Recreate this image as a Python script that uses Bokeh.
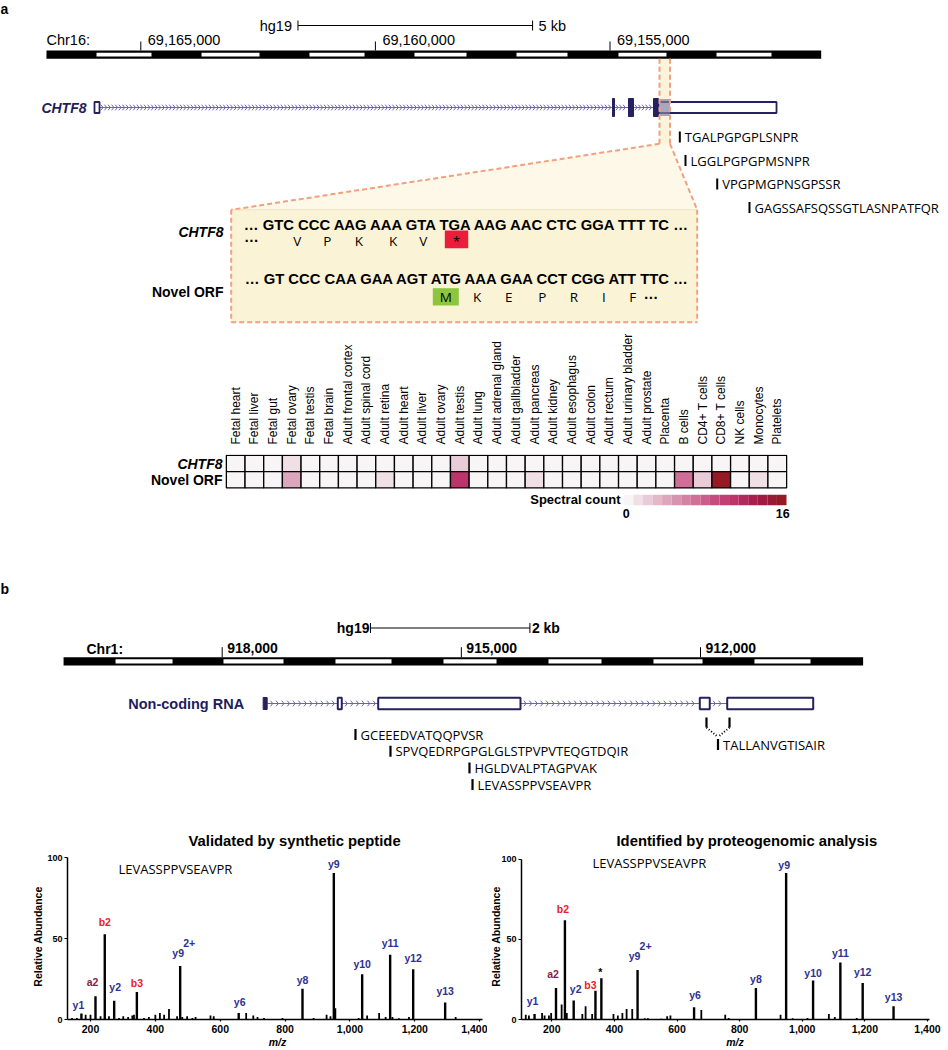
import math
import numpy as np
from bokeh.plotting import figure
from bokeh.models import (Range1d, FixedTicker, NumeralTickFormatter, LinearColorMapper,
                          ColumnDataSource)
from bokeh.layouts import column, row
from bokeh.embed import file_html
from bokeh.resources import INLINE
from bokeh.core.properties import value
from bokeh.transform import transform

# ====================== DATA ======================
# Panel a: Chr16 (hg19) ruler
chr16_ruler = [69167010, 69150499]
chr16_band_start = [69165944, 69163706, 69161405, 69159167, 69156993, 69154819, 69152730]
chr16_band_end = [69164772, 69162470, 69160232, 69158058, 69155906, 69153796, 69151558]
chr16_ticks = [69165000, 69160000, 69155000]
chr16_tick_labels = ["69,165,000", "69,160,000", "69,155,000"]
chr16_scale_bp = 5000
chr16_scale_start = 69161650

# CHTF8 gene model (genomic start/end, coding?)
chtf8_exon_start = [69165987, 69154947, 69154606, 69154073, 69153966]
chtf8_exon_end = [69165880, 69154904, 69154499, 69153966, 69151451]
chtf8_exon_coding = [False, True, True, True, False]
chtf8_zoom_region = [69153945, 69153721]

peptides_a = ["TGALPGPGPLSNPR", "LGGLPGPGPMSNPR", "VPGPMGPNSGPSSR", "GAGSSAFSQSSGTLASNPATFQR"]
peptides_a_start = [69153512, 69153391, 69152715, 69152027]

chtf8_codons = "GTC CCC AAG AAA GTA TGA AAG AAC CTC GGA TTT TC"
chtf8_aa = ["V", "P", "K", "K", "V", "*"]
novel_codons = "GT CCC CAA GAA AGT ATG AAA GAA CCT CGG ATT TTC"
novel_aa = ["M", "K", "E", "P", "R", "I", "F"]

# Heatmap: spectral counts per tissue
tissues = ["Fetal heart", "Fetal liver", "Fetal gut", "Fetal ovary", "Fetal testis", "Fetal brain",
           "Adult frontal cortex", "Adult spinal cord", "Adult retina", "Adult heart", "Adult liver",
           "Adult ovary", "Adult testis", "Adult lung", "Adult adrenal gland", "Adult gallbladder",
           "Adult pancreas", "Adult kidney", "Adult esophagus", "Adult colon", "Adult rectum",
           "Adult urinary bladder", "Adult prostate", "Placenta", "B cells", "CD4+ T cells",
           "CD8+ T cells", "NK cells", "Monocytes", "Platelets"]
chtf8_counts = [0, 0, 0, 1, 0, 0, 0, 0, 0, 0, 0, 0, 2, 0, 0, 0, 0, 0, 0, 0, 0, 0, 0, 0, 0, 0, 0, 0, 0, 0]
novel_counts = [0, 0, 0, 4, 0, 0, 0, 0, 1, 0, 0, 0, 11, 0, 0, 0, 1, 0, 0, 0, 0, 0, 0, 0, 7, 2, 16, 0, 1, 0]
count_max = 16
heat_rows = ["CHTF8", "Novel ORF"]

# Panel b: Chr1 ruler
chr1_ruler = [919990, 909960]
chr1_band_start = [919338, 917984, 916579, 915224, 913907, 912590, 911323]
chr1_band_end = [918623, 917231, 915876, 914559, 913242, 911975, 910620]
chr1_ticks = [918000, 915000, 912000]
chr1_tick_labels = ["918,000", "915,000", "912,000"]
chr1_scale_bp = 2000
chr1_scale_start = 916140

ncrna_exon_start = [917486, 916550, 916043, 912009, 911665]
ncrna_exon_end = [917436, 916500, 914258, 911884, 910586]
ncrna_exon_filled = [True, False, False, False, False]

peptides_b = ["GCEEEDVATQQPVSR", "SPVQEDRPGPGLGLSTPVPVTEQGTDQIR", "HGLDVALPTAGPVAK", "LEVASSPPVSEAVPR"]
peptides_b_start = [916328, 915889, 914898, 914860]
junction_peptide = "TALLANVGTISAIR"
junction_sites = [911925, 911636]

# MS/MS spectra
spectrum_peptide = "LEVASSPPVSEAVPR"
mz_ticks = [200, 400, 600, 800, 1000, 1200, 1400]
abund_ticks = [0, 50, 100]

syn_small_mz = [143, 158, 185, 200, 231, 257, 288, 301, 316, 329, 334, 365, 380, 400, 414, 427, 442, 467,
                483, 498, 514, 524, 570, 580, 680, 702, 715, 735, 792, 888, 928, 940, 955, 1027, 1053,
                1090, 1110, 1131, 1151, 1182, 1326]
syn_small_int = [1, 1, 3, 3, 2, 2, 1, 2, 1.5, 2.5, 3, 1, 1.5, 3, 4, 3, 6.5, 2, 1.5, 2, 1, 1.5, 2.5, 2, 4,
                 2.5, 1.5, 1, 1, 1, 3, 2, 7, 1, 2.5, 4, 1.5, 1.5, 0.8, 1.5, 1.5]
syn_ion_label = ["y1", "a2", "b2", "y2", "b3", "y9", "y6", "y8", "y9", "y10", "y11", "y12", "y13"]
syn_ion_charge = ["", "", "", "", "", "2+", "", "", "", "", "", "", ""]
syn_ion_mz = [172, 215.4, 244, 273, 343, 476.5, 657, 853.7, 950.3, 1037.7, 1124, 1195, 1293.6]
syn_ion_int = [3.7, 14.4, 52.7, 11.5, 17, 33, 4, 19, 90.5, 28, 40, 31, 10.5]

pg_small_mz = [117, 127, 169, 177, 191, 198, 231.5, 248, 297.6, 308, 329, 397, 411, 425.5, 439, 457, 497,
               507, 549.6, 568.5, 579, 677.6, 754, 765, 930.7, 969.5, 1016.7, 1085, 1104, 1174]
pg_small_int = [3, 2.5, 4, 2.5, 2.5, 4, 9.3, 4, 3.5, 8.3, 3.5, 3.5, 2.5, 4, 6.5, 6.5, 0.8, 0.8, 0.5, 2,
                2.5, 6, 3, 1, 3, 0.8, 1, 3.5, 1.5, 1]
pg_ion_label = ["y1", "a2", "b2", "y2", "b3", "*", "y9", "y6", "y8", "y9", "y10", "y11", "y12", "y13"]
pg_ion_charge = ["", "", "", "", "", "", "2+", "", "", "", "", "", "", ""]
pg_ion_mz = [145, 213.5, 242, 270, 339.5, 358.4, 474, 654.5, 852, 948.5, 1034.6, 1121.7, 1193, 1291.6]
pg_ion_int = [3.5, 19.7, 62, 11.8, 18, 25.7, 31, 7.6, 19.7, 91.5, 24.4, 35.6, 22.8, 8.3]

# ====================== STYLE ======================
SANS = "Liberation Sans"
PEP = "Open Sans"
NAVY = "#1f1d5c"
EXON_C = "#25205e"
INTRON_C = "#6c63b5"
ORANGE = "#f3a07e"
spectral_palette = ["#f7f5f6", "#f0e0e6", "#e9ccd8", "#e3b9ca", "#dca6bd", "#d794b0", "#d382a4",
                    "#cf6f98", "#cb5d8c", "#c64c80", "#c13f75", "#bc346a", "#b2295d", "#a81f4f",
                    "#9f1b41", "#991a32", "#951a24"]
ION_COLORS = {"y": "#2e3192", "b": "#ed1c24", "a": "#8c1c45", "*": "#000000"}


def make_canvas(width, height, xr, yr):
    p = figure(width=width, height=height, x_range=xr, y_range=yr,
               output_backend="svg", toolbar_location=None, tools="",
               x_axis_location=None, y_axis_location=None, min_border=0,
               outline_line_color=None, background_fill_color="white",
               border_fill_color="white", frame_align=False)
    p.grid.grid_line_color = None
    return p


def txt(p, x, y, t, size, style="normal", font=SANS, align="left", baseline="middle",
        color="black", x_offset=0, y_offset=0):
    p.text(x=list(x), y=list(y), text=list(t), text_font=value(font),
           text_font_size=value(size), text_font_style=value(style),
           text_align=value(align), text_baseline=value(baseline), text_color=value(color),
           x_offset=x_offset, y_offset=y_offset)


def draw_gene(p, starts, ends, filled, y, bp_px, step_px, h_open, h_fill, lw):
    order = sorted(range(len(starts)), key=lambda i: -starts[i])
    xs0, ys0, xs1, ys1 = [], [], [], []
    for a, b in zip(order[:-1], order[1:]):
        left, right = ends[a], starts[b]
        if left - right <= 0:
            continue
        p.segment(x0=[left], y0=[y], x1=[right], y1=[y], line_color=INTRON_C, line_width=1)
        step = step_px * bp_px
        tips = np.arange(left - step, right + 0.3 * step, -step)
        arm = 2.3 * bp_px
        for dy in (-2.8, 2.8):
            xs0 += list(tips + arm)
            ys0 += [y + dy] * len(tips)
            xs1 += list(tips)
            ys1 += [y] * len(tips)
    p.segment(x0=xs0, y0=ys0, x1=xs1, y1=ys1, line_color=INTRON_C, line_width=1)
    oi = [i for i in range(len(starts)) if not filled[i]]
    fi = [i for i in range(len(starts)) if filled[i]]
    p.quad(left=[starts[i] for i in oi], right=[ends[i] for i in oi], top=y - h_open,
           bottom=y + h_open, fill_color="white", line_color=EXON_C, line_width=lw)
    p.quad(left=[starts[i] for i in fi], right=[ends[i] for i in fi], top=y - h_fill,
           bottom=y + h_fill, fill_color=EXON_C, line_color=EXON_C, line_width=1)


# ====================== PANEL a (genome + zoom box) ======================
bpA = 10000 / 469.2


def ax(px):
    return 69165000 - (px - 140.3) * bpA


pa = make_canvas(948, 330, Range1d(ax(0), ax(948)), Range1d(330, 0))
zr0, zr1 = chtf8_zoom_region
bx_l, bx_r, bx_t, bx_b = ax(230.7), ax(696.7), 209.3, 321.7
pa.quad(left=[zr0], right=[zr1], top=58.3, bottom=143.3, fill_color="#fcf3d8", line_color=None)
pa.patch(x=[zr0, zr1, bx_r, bx_l], y=[143.3, 143.3, bx_t, bx_t], fill_color="#fdf8e8", line_color=None)
pa.quad(left=[bx_l], right=[bx_r], top=bx_t, bottom=bx_b, fill_color="#fbf3d6", line_color=None)
pa.segment(x0=[bx_l], y0=[bx_t], x1=[bx_r], y1=[bx_t], line_color="#efe2bf", line_width=1)

# ruler
pa.quad(left=[chr16_ruler[0]], right=[chr16_ruler[1]], top=50, bottom=58.3, fill_color="black", line_color=None)
pa.quad(left=chr16_band_start, right=chr16_band_end, top=52.3, bottom=56, fill_color="white", line_color=None)
pa.segment(x0=chr16_ticks, y0=41, x1=chr16_ticks, y1=50, line_color="black", line_width=1)
txt(pa, chr16_ticks, [39] * 3, chr16_tick_labels, "14.5px", x_offset=7)
txt(pa, [ax(46)], [39], ["Chr16:"], "14.5px")
s0, s1 = chr16_scale_start, chr16_scale_start - chr16_scale_bp
pa.segment(x0=[s0], y0=[25], x1=[s1], y1=[25], line_color="black", line_width=1)
pa.segment(x0=[s0, s1], y0=[20, 20], x1=[s0, s1], y1=[30, 30], line_color="black", line_width=1)
txt(pa, [s0], [25], ["hg19"], "14.5px", align="right", x_offset=-6)
txt(pa, [s1], [25], ["%d kb" % (chr16_scale_bp // 1000)], "14.5px", x_offset=6)
txt(pa, [ax(0)], [0.5], ["a"], "14px", style="bold", baseline="top")

# gene
draw_gene(pa, chtf8_exon_start, chtf8_exon_end, chtf8_exon_coding, 107, bpA, 3.6, 5.5, 9, 1.8)
pa.quad(left=[zr0], right=[zr1], top=98.5, bottom=115.5, fill_color="#85829f", fill_alpha=0.7,
        line_color=None)
txt(pa, [chtf8_exon_start[0]], [107], ["CHTF8"], "14px", style="bold italic", align="right",
    color=NAVY, x_offset=-8)

# peptides a
pep_y = [136.5 + 23.5 * i for i in range(len(peptides_a))]
pa.segment(x0=peptides_a_start, y0=[y - 5.5 for y in pep_y], x1=peptides_a_start,
           y1=[y + 5.5 for y in pep_y], line_color="black", line_width=2)
txt(pa, peptides_a_start, pep_y, peptides_a, "13px", font=PEP, x_offset=5)

# dashed outlines
dash = dict(line_color=ORANGE, line_width=2, line_dash="5 3")
pa.segment(x0=[zr0, zr1], y0=[58.3, 58.3], x1=[zr0, zr1], y1=[143.3, 143.3], **dash)
pa.segment(x0=[zr0, zr1], y0=[143.3, 143.3], x1=[bx_l, bx_r], y1=[bx_t, bx_t], **dash)
pa.segment(x0=[bx_l, bx_r, bx_l], y0=[bx_t, bx_t, bx_b], x1=[bx_l, bx_r, bx_r], y1=[bx_b, bx_b, bx_b], **dash)

# sequences
txt(pa, [ax(243.3)], [224.3], ["\u2026 " + chtf8_codons + " \u2026"], "14.8px", style="bold")
txt(pa, [ax(244.3)], [278.3], ["\u2026 " + novel_codons + " \u2026"], "14.8px", style="bold")
aa1_px = [296.7, 326.7, 358.3, 392.7, 422.7, 456.0]
aa2_px = [445.3, 476.7, 508.3, 541.7, 573.3, 603.3, 632.3]
stop_i = chtf8_aa.index("*")
pa.quad(left=[ax(aa1_px[stop_i] - 11.7)], right=[ax(aa1_px[stop_i] + 11.7)], top=230, bottom=247.7,
        fill_color="#ec1c3b", line_color=None)
start_i = novel_aa.index("M")
pa.quad(left=[ax(aa2_px[start_i] - 13)], right=[ax(aa2_px[start_i] + 13)], top=287.7, bottom=305,
        fill_color="#8cc63f", line_color=None)
txt(pa, [ax(p) for p in aa1_px], [240] * len(chtf8_aa), chtf8_aa, "13.5px", font=PEP, align="center",
    color="black")
txt(pa, [ax(p) for p in aa2_px], [296.5] * len(novel_aa), novel_aa, "13.5px", font=PEP, align="center",
    color="black")
txt(pa, [ax(243.5)], [236.5], ["\u2026"], "14.8px", style="bold")
txt(pa, [ax(643)], [293], ["\u2026"], "14.8px", style="bold")
txt(pa, [ax(223)], [231.7], [heat_rows[0]], "14px", style="bold italic", align="right")
txt(pa, [ax(223)], [291.7], [heat_rows[1]], "14px", style="bold", align="right")

# ====================== HEATMAP ======================
cellw = 18.675


def hx(px):
    return (px - 225.87) / cellw - 0.5


def hy(py):
    return 1.5 - (py - 453.0) / 16.7


hm = figure(width=948, height=195, x_range=Range1d(hx(0), hx(948)),
            y_range=Range1d(hy(525), hy(452)), x_axis_location="above", y_axis_location=None,
            output_backend="svg", toolbar_location=None, tools="",
            min_border_left=0, min_border_right=0, min_border_top=122, min_border_bottom=0,
            outline_line_color=None, background_fill_color="white", border_fill_color="white",
            frame_align=False)
hm.grid.grid_line_color = None
tissue_x = list(range(len(tissues)))
xa = hm.xaxis[0]
xa.ticker = FixedTicker(ticks=tissue_x)
xa.major_label_overrides = {i: t for i, t in zip(tissue_x, tissues)}
xa.axis_line_color = None
xa.major_tick_line_color = None
xa.minor_tick_line_color = None
xa.major_label_orientation = math.pi / 2
xa.major_label_standoff = 4
xa.major_label_text_font = SANS
xa.major_label_text_font_size = "12px"
xa.major_label_text_color = "black"

mapper = LinearColorMapper(palette=spectral_palette, low=-0.5, high=count_max + 0.5)
hm_src = ColumnDataSource(dict(x=tissue_x + tissue_x,
                               rowy=[1] * len(tissues) + [0] * len(tissues),
                               count=chtf8_counts + novel_counts))
hm.rect(x="x", y="rowy", width=1, height=1, source=hm_src,
        fill_color=transform("count", mapper), line_color="black", line_width=1.3)

levels = list(range(count_max + 1))
cb0, cb1 = hx(623.3), hx(786)
cbw = (cb1 - cb0) / len(levels)
cb_src = ColumnDataSource(dict(x=[cb0 + (i + 0.5) * cbw for i in range(len(levels))], count=levels))
hm.rect(x="x", y=hy(498.8), width=cbw, height=11 / 16.7, source=cb_src,
        fill_color=transform("count", mapper), line_color=None)
txt(hm, [hx(222)], [1], [heat_rows[0]], "14px", style="bold italic", align="right")
txt(hm, [hx(222)], [0], [heat_rows[1]], "14px", style="bold", align="right")
txt(hm, [hx(620)], [hy(498.5)], ["Spectral count"], "13px", style="bold", align="right")
txt(hm, [hx(625.7), hx(782.3)], [hy(513)] * 2, [str(levels[0]), str(levels[-1])], "12.5px",
    style="bold", align="center")

# ====================== PANEL b (genome) ======================
bpB = 6000 / 478.3


def bx(px):
    return 918000 - (px - 221.7) * bpB


pb = make_canvas(948, 270, Range1d(bx(0), bx(948)), Range1d(795, 525))
txt(pb, [bx(0)], [588], ["b"], "14px", style="bold")
pb.quad(left=[chr1_ruler[0]], right=[chr1_ruler[1]], top=656.7, bottom=665, fill_color="black", line_color=None)
pb.quad(left=chr1_band_start, right=chr1_band_end, top=658.7, bottom=663, fill_color="white", line_color=None)
pb.segment(x0=chr1_ticks, y0=646.7, x1=chr1_ticks, y1=656.7, line_color="black", line_width=1)
txt(pb, chr1_ticks, [647.5] * 3, chr1_tick_labels, "14px", style="bold", x_offset=5)
txt(pb, [bx(86)], [648], ["Chr1:"], "14px", style="bold")
t0, t1 = chr1_scale_start, chr1_scale_start - chr1_scale_bp
pb.segment(x0=[t0], y0=[627.5], x1=[t1], y1=[627.5], line_color="black", line_width=1)
pb.segment(x0=[t0, t1], y0=[622.5, 622.5], x1=[t0, t1], y1=[632.5, 632.5], line_color="black", line_width=1)
txt(pb, [t0], [627.5], ["hg19"], "14px", style="bold", align="right", x_offset=-1)
txt(pb, [t1], [627.5], ["%d kb" % (chr1_scale_bp // 1000)], "14px", style="bold", x_offset=2)

draw_gene(pb, ncrna_exon_start, ncrna_exon_end, ncrna_exon_filled, 703, bpB, 5.6, 5.7, 6, 2)
txt(pb, [ncrna_exon_start[0]], [703], ["Non-coding RNA"], "14.5px", style="bold", align="right",
    color=NAVY, x_offset=-19)

pepb_y = [734 + 16.7 * i for i in range(len(peptides_b))]
pb.segment(x0=peptides_b_start, y0=[y - 5.5 for y in pepb_y], x1=peptides_b_start,
           y1=[y + 5.5 for y in pepb_y], line_color="black", line_width=2.2)
txt(pb, peptides_b_start, pepb_y, peptides_b, "13px", font=PEP, x_offset=5)
jmid = sum(junction_sites) / 2.0
pb.segment(x0=junction_sites, y0=[717, 717], x1=junction_sites, y1=[727, 727], line_color="black", line_width=2.2)
pb.segment(x0=junction_sites, y0=[727, 727], x1=[jmid, jmid], y1=[736.5, 736.5], line_color="black",
           line_width=2, line_dash="1 2")
pb.segment(x0=[jmid], y0=[738.5], x1=[jmid], y1=[749.5], line_color="black", line_width=2.2)
txt(pb, [jmid], [744], [junction_peptide], "13px", font=PEP, x_offset=5)


# ====================== SPECTRA ======================
def spectrum(width, page_left, border_left, border_bottom, mz200_px, px_per_mz, ref_zero_py, px_per_unit,
             small_mz, small_int, ion_mz, ion_int, ion_label, ion_charge, dx, dy,
             title, title_offset, pep_px, ylab_standoff):
    page_top, height, border_top = 795, 255, 58
    f_left = page_left + border_left
    f_right = page_left + width
    f_top = page_top + border_top
    f_bottom = page_top + height - border_bottom
    xs = 200 - (mz200_px - f_left) / px_per_mz
    xe = 200 + (f_right - mz200_px) / px_per_mz
    ye = (f_bottom - f_top) / px_per_unit
    p = figure(width=width, height=height, x_range=Range1d(xs, xe), y_range=Range1d(0, ye),
               output_backend="svg", toolbar_location=None, tools="", title=title,
               min_border_left=border_left, min_border_right=0, min_border_top=border_top,
               min_border_bottom=border_bottom, outline_line_color=None,
               background_fill_color="white", border_fill_color="white", frame_align=False)
    p.grid.grid_line_color = None
    p.title.align = "left"
    p.title.offset = title_offset
    p.title.text_font = SANS
    p.title.text_font_size = "14.8px"
    p.title.text_font_style = "bold"
    p.title.text_color = "black"
    p.title.standoff = 10

    def sx(px):
        return 200 + (px - mz200_px) / px_per_mz

    def sy(py):
        return (ref_zero_py - py) / px_per_unit

    p.segment(x0=small_mz, y0=0, x1=small_mz, y1=small_int, line_color="black", line_width=1.8)
    p.segment(x0=ion_mz, y0=0, x1=ion_mz, y1=ion_int, line_color="black", line_width=2.4)
    cols = [ION_COLORS[l[0]] for l in ion_label]
    src = ColumnDataSource(dict(x=ion_mz, y=ion_int, t=ion_label, c=cols, dx=dx, dy=dy))
    p.text(x="x", y="y", text="t", text_color="c", x_offset="dx", y_offset="dy", source=src,
           text_font=value(SANS), text_font_size=value("10.5px"), text_font_style=value("bold"),
           text_align=value("center"), text_baseline=value("middle"))
    ci = [i for i, c in enumerate(ion_charge) if c]
    p.text(x=[ion_mz[i] for i in ci], y=[ion_int[i] for i in ci], text=[ion_charge[i] for i in ci],
           x_offset=[dx[i] + 11 for i in ci], y_offset=[dy[i] - 10 for i in ci],
           text_color=value(ION_COLORS["y"]), text_font=value(SANS), text_font_size=value("10.5px"),
           text_font_style=value("bold"), text_align=value("center"), text_baseline=value("middle"))
    txt(p, [sx(pep_px[0])], [sy(pep_px[1])], [spectrum_peptide], "13px", font=PEP)

    xa = p.xaxis[0]
    xa.ticker = FixedTicker(ticks=mz_ticks)
    xa.formatter = NumeralTickFormatter(format="0,0")
    xa.bounds = (xs, 1408)
    xa.axis_line_width = 1.5
    xa.major_tick_line_width = 1.2
    xa.major_tick_out = 2
    xa.major_tick_in = 0
    xa.minor_tick_line_color = None
    xa.major_label_standoff = 3
    xa.major_label_text_font = SANS
    xa.major_label_text_font_size = "10.5px"
    xa.major_label_text_font_style = "bold"
    xa.major_label_text_color = "black"
    xa.axis_label = "m/z"
    xa.axis_label_standoff = 0
    xa.axis_label_text_font = SANS
    xa.axis_label_text_font_size = "10.5px"
    xa.axis_label_text_font_style = "bold italic"
    xa.axis_label_text_color = "black"

    ya = p.yaxis[0]
    ya.ticker = FixedTicker(ticks=abund_ticks)
    ya.bounds = (0, 100)
    ya.axis_line_width = 1.5
    ya.major_tick_line_width = 1.2
    ya.major_tick_out = 3
    ya.major_tick_in = 0
    ya.minor_tick_line_color = None
    ya.major_label_standoff = 2
    ya.major_label_text_font = SANS
    ya.major_label_text_font_size = "9px"
    ya.major_label_text_font_style = "bold"
    ya.major_label_text_color = "black"
    ya.axis_label = "Relative Abundance"
    ya.axis_label_standoff = ylab_standoff
    ya.axis_label_text_font = SANS
    ya.axis_label_text_font_size = "10.5px"
    ya.axis_label_text_font_style = "bold"
    ya.axis_label_text_color = "black"
    return p


sp1 = spectrum(487, 0, 67, 31, 90, 0.3243, 1019.3, 1.62, syn_small_mz, syn_small_int,
               syn_ion_mz, syn_ion_int, syn_ion_label, syn_ion_charge,
               [-3, -3, 0, 1, 0, -2, 1, 0, 0, 0, 0, 0, 0],
               [-9, -14, -12, -13.5, -9, -13, -11, -8.5, -8.7, -9.7, -12, -11, -11],
               "Validated by synthetic peptide", 121, (118, 869), 0)
sp2 = spectrum(461, 487, 28, 30, 545.7, 0.3175, 1020, 1.61, pg_small_mz, pg_small_int,
               pg_ion_mz, pg_ion_int, pg_ion_label, pg_ion_charge,
               [-2, -3, -2, 2, -5, -1, -3, 1, 0, -2, 0, 0, 0, 0],
               [-13, -14, -11, -12, -6, -6, -14, -12, -9, -8.5, -7.5, -9.5, -11, -9.5],
               "Identified by proteogenomic analysis", 95, (587, 863), -4)

layout = column(pa, hm, pb, row(sp1, sp2))
open("out.html", "w").write(file_html(layout, INLINE))
